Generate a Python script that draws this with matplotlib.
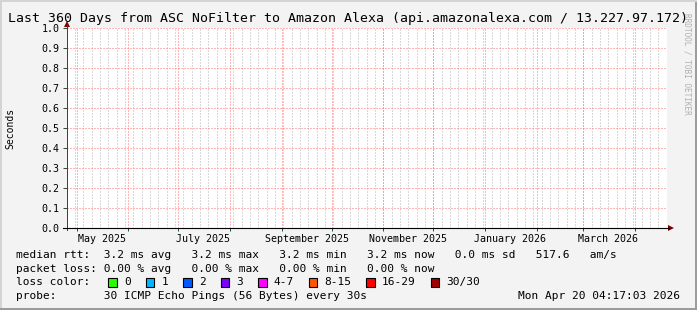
import datetime as dt
import numpy as np
import matplotlib
matplotlib.use('Agg')
import matplotlib.pyplot as plt
from matplotlib.lines import Line2D
from matplotlib.patches import Rectangle, Polygon

plt.rcParams['font.family'] = ['DejaVu Sans Mono']

# ---- data ----
title = 'Last 360 Days from ASC NoFilter to Amazon Alexa (api.amazonalexa.com / 13.227.97.172)'
end_time = dt.datetime(2026, 4, 20, 4, 17, 3)
span_days = 360
minor_step_days = 5
y_ticks = [0.0, 0.1, 0.2, 0.3, 0.4, 0.5, 0.6, 0.7, 0.8, 0.9, 1.0]
month_starts = [dt.datetime(2025, m, 1) for m in range(5, 13)] + \
               [dt.datetime(2026, m, 1) for m in range(1, 5)]
label_months = [dt.datetime(2025, 5, 1), dt.datetime(2025, 7, 1), dt.datetime(2025, 9, 1),
                dt.datetime(2025, 11, 1), dt.datetime(2026, 1, 1), dt.datetime(2026, 3, 1)]

rtt_line = 'median rtt:  3.2 ms avg   3.2 ms max   3.2 ms min   3.2 ms now   0.0 ms sd   517.6   am/s'
loss_line = 'packet loss: 0.00 % avg   0.00 % max   0.00 % min   0.00 % now'
loss_labels = ['0', '1', '2', '3', '4-7', '8-15', '16-29', '30/30']
loss_colors = ['#26ff00', '#00b8ff', '#0059ff', '#7e00ff', '#ff00ff', '#ff5500', '#ff0000', '#a10000']
probe_line = 'probe:       30 ICMP Echo Pings (56 Bytes) every 30s'
stamp = 'Mon Apr 20 04:17:03 2026'

# ---- layout (pixels) ----
W, H = 697, 310
X0, X1, Y0, Y1 = 67, 667, 28, 228
cw = 6.69  # char width of legend font

def fx(x):
    return x / W

def fy(y):
    return 1 - y / H

fig = plt.figure(figsize=(W / 100, H / 100), dpi=100, facecolor='#f3f3f3')

# 3d border
fig.add_artist(Rectangle((0, 0), 1, fy(H - 2), transform=fig.transFigure, color='#9c9c9c', lw=0))
fig.add_artist(Rectangle((fx(W - 2), 0), fx(2), 1, transform=fig.transFigure, color='#9c9c9c', lw=0))
fig.add_artist(Rectangle((0, fy(2)), 1, fx(2) * W / H, transform=fig.transFigure, color='#d4d4d4', lw=0))
fig.add_artist(Rectangle((0, fy(H - 2)), fx(2), 1, transform=fig.transFigure, color='#d4d4d4', lw=0))

ax = fig.add_axes([fx(X0), fy(Y1), (X1 - X0) / W, (Y1 - Y0) / H])
ax.set_facecolor('white')
start_time = end_time - dt.timedelta(days=span_days)
ax.set_xlim(start_time, end_time)
ax.set_ylim(0, 1)
for s in ax.spines.values():
    s.set_visible(False)

# grid: minor every few days from the start day's midnight, major at month starts
minor_days = []
d = dt.datetime(start_time.year, start_time.month, start_time.day)
while d < end_time:
    if d > start_time:
        minor_days.append(d)
    d += dt.timedelta(days=minor_step_days)
dots = (0, (1, 2))
g1 = ax.vlines(minor_days, 0, 1, colors='#b4b4b4', lw=0.72, linestyles=dots)
g2 = ax.hlines(y_ticks[1:], start_time, end_time, colors='#ff7070', lw=0.72, linestyles=dots)
g3 = ax.vlines(month_starts, 0, 1, colors='#ff7070', lw=0.72, linestyles=dots)
for g in (g1, g2, g3):
    g.set_snap(True)

ax.set_yticks(y_ticks)
ax.set_yticklabels(['%.1f' % v for v in y_ticks])
ax.set_xticks(month_starts)
ax.set_xticklabels([])
ax.set_xticks([m + dt.timedelta(days=15) for m in label_months], minor=True)
ax.set_xticklabels([m.strftime('%B %Y') for m in label_months], minor=True)
ax.tick_params(axis='y', length=3, width=0.72, color='#2c4d43', labelsize=7.2, pad=2.5)
ax.tick_params(axis='x', which='major', length=2, width=0.72, color='#2c4d43')
ax.tick_params(axis='x', which='minor', length=0, labelsize=7.2, pad=4)

# axes with arrows
axis_col = '#2c4d43'
fig.add_artist(Line2D([fx(X0), fx(X0)], [fy(Y1 + 2), fy(Y0 - 3)], color=axis_col, lw=0.72,
                      snap=True))
fig.add_artist(Line2D([fx(X0 - 4), fx(X1 + 2)], [fy(Y1), fy(Y1)], color='black', lw=0.8,
                      snap=True))
fig.add_artist(Polygon([[fx(X0 - 3), fy(Y0 - 1)], [fx(X0 + 3), fy(Y0 - 1)], [fx(X0), fy(Y0 - 7)]],
                       closed=True, transform=fig.transFigure, color='#7f0000', lw=0))
fig.add_artist(Polygon([[fx(X1 + 1), fy(Y1 - 3)], [fx(X1 + 1), fy(Y1 + 3)], [fx(X1 + 7), fy(Y1)]],
                       closed=True, transform=fig.transFigure, color='#7f0000', lw=0))

# texts
fig.text(0.5, fy(18.5), title, ha='center', va='center', fontsize=9.5)
fig.text(fx(10), fy((Y0 + Y1) / 2), 'Seconds', rotation=90, ha='center', va='center', fontsize=7)
fig.text(fx(687), fy(13), 'RRDTOOL / TOBI OETIKER', rotation=270, ha='center', va='top',
         fontsize=5.6, color='#b0b0b0')

fig.text(fx(16), fy(255), rtt_line, ha='left', va='center', fontsize=8)
fig.text(fx(16), fy(268.5), loss_line, ha='left', va='center', fontsize=8)
fig.text(fx(16), fy(282.3), 'loss color:', ha='left', va='center', fontsize=8)
bx = 108.3
for lab, col in zip(loss_labels, loss_colors):
    fig.add_artist(Rectangle((fx(bx), fy(286.5)), 8.5 / W, 8.5 / H, transform=fig.transFigure,
                             facecolor=col, edgecolor='black', lw=0.8))
    fig.text(fx(bx + 15.7), fy(282.3), lab, ha='left', va='center', fontsize=8)
    bx += 15.7 + (len(lab) + 2.25) * cw
fig.text(fx(16), fy(296), probe_line, ha='left', va='center', fontsize=8)
fig.text(fx(680), fy(296), stamp, ha='right', va='center', fontsize=8)

fig.savefig('out.png', dpi=100, facecolor=fig.get_facecolor())
